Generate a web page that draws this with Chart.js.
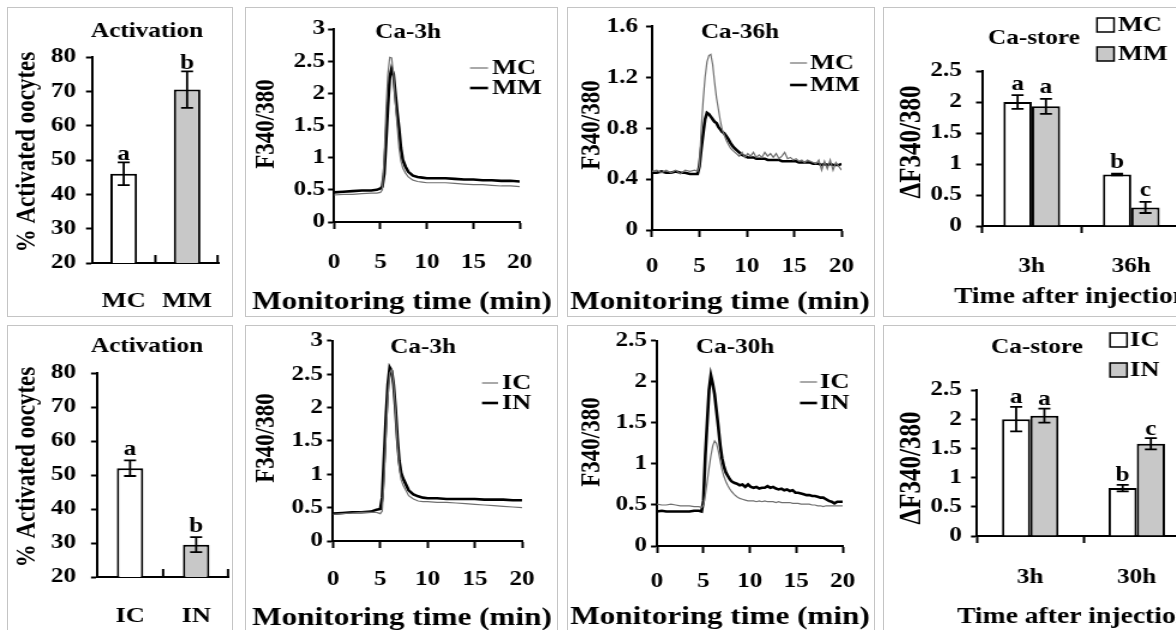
<!DOCTYPE html>
<html>
<head>
<meta charset="utf-8">
<script src="https://cdn.jsdelivr.net/npm/chart.js@4.4.1/dist/chart.umd.min.js"></script>
<style>
  html, body { margin: 0; padding: 0; background: #fff; width: 1176px; height: 630px; overflow: hidden; }
  .panel { position: absolute; overflow: hidden; }
  .panel canvas { position: absolute; left: 0; top: 0; transform-origin: 0 0; }
  .frame { position: absolute; left: 0; top: 0; right: 0; bottom: 0; border: 1px solid #c4c4c4; pointer-events: none; }
</style>
</head>
<body>
<script>
// ---- data ----

// Activation (% activated oocytes)
const actTicks = [20, 30, 40, 50, 60, 70, 80];
const actCats1 = ['MC', 'MM'];
const actVals1 = [46, 70.5];
const actErr1 = [3.3, 5.3];
const actLetters1 = ['a', 'b'];
const actCats2 = ['IC', 'IN'];
const actVals2 = [52, 29.5];
const actErr2 = [2.3, 2.2];
const actLetters2 = ['a', 'b'];

// Ca-store (delta F340/380)
const storeTicks = [0, 0.5, 1, 1.5, 2, 2.5];
const storeCats1 = ['3h', '36h'];
const storeMC = [2.0, 0.83];
const storeMCErr = [0.11, 0.015];
const storeMM = [1.93, 0.30];
const storeMMErr = [0.12, 0.09];
const storeLetters1 = [['a', 'b'], ['a', 'c']];
const storeCats2 = ['3h', '30h'];
const storeIC = [2.0, 0.82];
const storeICErr = [0.21, 0.055];
const storeIN = [2.06, 1.58];
const storeINErr = [0.12, 0.095];
const storeLetters2 = [['a', 'b'], ['a', 'c']];

// Ca traces, F340/380 vs monitoring time (min)
const timeTicks = [0, 5, 10, 15, 20];
const ticks3h = [0, 0.5, 1, 1.5, 2, 2.5, 3];
const ticks36h = [0, 0.4, 0.8, 1.2, 1.6];
const ticks30h = [0, 0.5, 1, 1.5, 2, 2.5];

const timeA = [0, 1, 2, 3, 4, 4.6, 5, 5.2, 5.4, 5.6, 5.8, 6.0, 6.2, 6.4, 6.6, 6.8, 7.0, 7.2, 7.4, 7.7,
  8.0, 8.5, 9, 9.5, 10, 11, 12, 13, 14, 15, 16, 17, 18, 19, 20];
const mc3h = [0.42, 0.43, 0.43, 0.44, 0.45, 0.45, 0.46, 0.50, 1.00, 1.75, 2.30, 2.56, 2.55, 2.30, 1.85, 1.50, 1.15, 0.95, 0.84, 0.76,
  0.70, 0.65, 0.63, 0.62, 0.61, 0.61, 0.61, 0.60, 0.59, 0.58, 0.58, 0.57, 0.56, 0.56, 0.55];
const mm3h = [0.46, 0.47, 0.48, 0.49, 0.49, 0.50, 0.52, 0.55, 0.75, 1.25, 1.80, 2.25, 2.38, 2.30, 2.00, 1.70, 1.45, 1.15, 0.97, 0.86,
  0.78, 0.72, 0.70, 0.69, 0.68, 0.68, 0.68, 0.67, 0.66, 0.66, 0.65, 0.65, 0.64, 0.64, 0.63];
const ic3h = [0.40, 0.41, 0.42, 0.43, 0.43, 0.43, 0.41, 0.45, 0.90, 1.55, 2.15, 2.52, 2.57, 2.35, 1.95, 1.45, 1.10, 0.92, 0.84, 0.76,
  0.68, 0.63, 0.60, 0.59, 0.59, 0.58, 0.58, 0.57, 0.56, 0.55, 0.54, 0.53, 0.52, 0.51, 0.50];
const in3h = [0.41, 0.42, 0.43, 0.43, 0.44, 0.47, 0.48, 0.65, 1.25, 1.85, 2.35, 2.60, 2.55, 2.35, 2.00, 1.55, 1.20, 1.02, 0.94, 0.85,
  0.76, 0.70, 0.67, 0.65, 0.64, 0.64, 0.63, 0.63, 0.63, 0.63, 0.62, 0.62, 0.62, 0.61, 0.61];

const timeB = [0, 0.5, 1, 1.5, 2, 2.5, 3, 3.5, 4, 4.5, 4.8,
  5.0, 5.2, 5.4, 5.6, 5.8, 6.0, 6.2, 6.4, 6.6, 6.8, 7.0, 7.2, 7.4, 7.6, 7.8, 8.0,
  8.3, 8.6, 8.9, 9.2, 9.5, 9.8, 10.1, 10.4, 10.7, 11, 11.3, 11.6, 11.9, 12.2, 12.5, 12.8, 13.1, 13.4, 13.7, 14,
  14.3, 14.6, 14.9, 15.2, 15.5, 15.8, 16.1, 16.4, 16.7, 17, 17.3, 17.6, 17.9, 18.2, 18.5, 18.8, 19.1, 19.4, 19.7, 20];
const mc36h = [0.46, 0.47, 0.45, 0.47, 0.45, 0.47, 0.44, 0.47, 0.46, 0.47, 0.46,
  0.50, 0.80, 1.02, 1.20, 1.32, 1.37, 1.38, 1.30, 1.16, 1.04, 0.95, 0.86, 0.79, 0.75, 0.71, 0.68,
  0.64, 0.62, 0.60, 0.58, 0.61, 0.57, 0.60, 0.58, 0.61, 0.57, 0.59, 0.57, 0.61, 0.58, 0.60, 0.57, 0.60, 0.56, 0.58, 0.61,
  0.56, 0.57, 0.55, 0.56, 0.54, 0.55, 0.53, 0.55, 0.54, 0.53, 0.52, 0.55, 0.47, 0.54, 0.48, 0.55, 0.47, 0.53, 0.50, 0.47];
const mm36h = [0.45, 0.45, 0.46, 0.45, 0.45, 0.46, 0.45, 0.45, 0.44, 0.44, 0.44,
  0.50, 0.64, 0.76, 0.87, 0.92, 0.91, 0.89, 0.87, 0.85, 0.84, 0.81, 0.79, 0.77, 0.76, 0.74, 0.72,
  0.68, 0.65, 0.63, 0.61, 0.59, 0.58, 0.57, 0.57, 0.57, 0.56, 0.56, 0.56, 0.56, 0.55, 0.55, 0.55, 0.55, 0.55, 0.54, 0.54,
  0.54, 0.54, 0.54, 0.54, 0.53, 0.53, 0.53, 0.53, 0.53, 0.52, 0.52, 0.52, 0.51, 0.52, 0.51, 0.52, 0.51, 0.51, 0.51, 0.52];
const ic30h = [0.51, 0.50, 0.50, 0.51, 0.50, 0.49, 0.49, 0.49, 0.48, 0.48, 0.47,
  0.50, 0.62, 0.78, 0.95, 1.10, 1.22, 1.28, 1.25, 1.16, 1.04, 0.93, 0.85, 0.79, 0.74, 0.70, 0.67,
  0.63, 0.60, 0.58, 0.57, 0.56, 0.55, 0.55, 0.55, 0.54, 0.55, 0.54, 0.55, 0.54, 0.54, 0.54, 0.53, 0.54, 0.53, 0.53, 0.53,
  0.53, 0.52, 0.52, 0.52, 0.51, 0.51, 0.51, 0.51, 0.50, 0.50, 0.49, 0.49, 0.48, 0.49, 0.49, 0.49, 0.49, 0.49, 0.49, 0.49];
const in30h = [0.42, 0.43, 0.42, 0.42, 0.42, 0.42, 0.42, 0.42, 0.43, 0.43, 0.42,
  0.55, 1.10, 1.50, 1.90, 2.08, 1.98, 1.85, 1.65, 1.45, 1.23, 1.07, 0.97, 0.90, 0.86, 0.82, 0.79,
  0.77, 0.76, 0.74, 0.75, 0.72, 0.75, 0.72, 0.71, 0.72, 0.70, 0.71, 0.71, 0.73, 0.71, 0.72, 0.70, 0.69, 0.70, 0.68, 0.69,
  0.67, 0.68, 0.65, 0.65, 0.64, 0.63, 0.62, 0.62, 0.61, 0.61, 0.60, 0.59, 0.59, 0.57, 0.55, 0.54, 0.52, 0.54, 0.54, 0.54];

// ---- drawing ----

const SX = 1.2; // the figure is stretched horizontally
const FONT = '"Liberation Serif", "Times New Roman", serif';
const GRAY = '#c8c8c8';
Chart.defaults.font.family = FONT;
Chart.defaults.font.weight = 'bold';
Chart.defaults.color = '#000';

const pts = (xs, ys) => xs.map((x, i) => ({ x: x, y: ys[i] }));
const thin = (label, xs, ys) => ({ label, data: pts(xs, ys), borderColor: '#707070', borderWidth: 1.2, pointRadius: 0, tension: 0 });
const thick = (label, xs, ys) => ({ label, data: pts(xs, ys), borderColor: '#000', borderWidth: 2.6, pointRadius: 0, tension: 0 });

// free text, legends, error bars and letters
const figText = {
  id: 'figText',
  afterDatasetsDraw(chart, args, o) {
    if (!o.box) return;
    const ctx = chart.ctx, b = o.box, sx = o.sx;
    const X = v => (v - b.x) / sx, Y = v => v - b.y;
    const font = s => `bold ${s}px ${FONT}`;
    const yS = chart.scales.y, xS = chart.scales.x;
    ctx.save();
    ctx.fillStyle = '#000';
    ctx.strokeStyle = '#000';

    (o.errors || []).forEach((errs, i) => {
      const meta = chart.getDatasetMeta(i);
      const vals = chart.data.datasets[i].data;
      meta.data.forEach((bar, j) => {
        const top = yS.getPixelForValue(vals[j] + errs[j]);
        const bot = yS.getPixelForValue(vals[j] - errs[j]);
        ctx.lineWidth = 1.8;
        ctx.beginPath();
        ctx.moveTo(bar.x, top); ctx.lineTo(bar.x, bot);
        ctx.moveTo(bar.x - 5, top); ctx.lineTo(bar.x + 5, top);
        ctx.moveTo(bar.x - 5, bot); ctx.lineTo(bar.x + 5, bot);
        ctx.stroke();
        if (o.letters) {
          ctx.font = font(21);
          ctx.textAlign = 'center';
          ctx.textBaseline = 'middle';
          ctx.fillText(o.letters[i][j], bar.x, top - o.letterGap);
        }
      });
    });

    if (o.innerTicks) {
      const n = chart.data.labels.length, bottom = chart.chartArea.bottom;
      ctx.lineWidth = 2;
      for (let i = 1; i <= n; i++) {
        const px = i < n ? (xS.getPixelForTick(i - 1) + xS.getPixelForTick(i)) / 2 : chart.chartArea.right - 1;
        ctx.beginPath(); ctx.moveTo(px, bottom); ctx.lineTo(px, bottom - 8); ctx.stroke();
      }
    }

    ctx.textBaseline = 'middle';
    (o.texts || []).forEach(t => {
      ctx.font = font(t.size);
      ctx.textAlign = t.align || 'center';
      ctx.fillText(t.t, X(t.x), Y(t.y));
    });
    (o.vtexts || []).forEach(t => {
      ctx.save();
      ctx.font = font(t.size);
      ctx.textAlign = 'center';
      ctx.translate(X(t.x), Y(t.y));
      ctx.rotate(-Math.PI / 2);
      ctx.fillText(t.t, 0, 0);
      ctx.restore();
    });

    const lg = o.legend;
    if (lg) {
      chart.data.datasets.forEach((ds, i) => {
        const y = Y(lg.ys[i]);
        if (lg.type === 'line') {
          ctx.strokeStyle = ds.borderColor;
          ctx.lineWidth = ds.borderWidth;
          ctx.beginPath(); ctx.moveTo(X(lg.x1), y); ctx.lineTo(X(lg.x2), y); ctx.stroke();
        } else {
          ctx.fillStyle = ds.backgroundColor;
          ctx.fillRect(X(lg.x1), y - 7, X(lg.x2) - X(lg.x1), 14);
          ctx.strokeStyle = '#000';
          ctx.lineWidth = 1.5;
          ctx.strokeRect(X(lg.x1), y - 7, X(lg.x2) - X(lg.x1), 14);
        }
        ctx.fillStyle = '#000';
        ctx.font = font(22);
        ctx.textAlign = 'left';
        ctx.fillText(ds.label, X(lg.tx), y);
      });
    }
    ctx.restore();
  }
};
Chart.register(figText);

function buildPanel(p) {
  const b = p.box, a = p.area;
  const W = Math.round(b.w / SX), H = b.h;
  const sx = b.w / W;
  const X = v => (v - b.x) / sx, Y = v => v - b.y;

  const wrap = document.createElement('div');
  wrap.className = 'panel';
  wrap.style.cssText = `left:${b.x}px;top:${b.y}px;width:${b.w}px;height:${b.h}px`;
  const canvas = document.createElement('canvas');
  canvas.width = W;
  canvas.height = H;
  canvas.style.width = W + 'px';
  canvas.style.height = H + 'px';
  canvas.style.transform = `scaleX(${sx})`;
  wrap.appendChild(canvas);
  const frame = document.createElement('div');
  frame.className = 'frame';
  wrap.appendChild(frame);
  document.body.appendChild(wrap);

  const areaL = X(a.l), areaR = X(a.r), areaT = Y(a.t), areaB = Y(a.b);
  const yTl = 5;
  const xTl = p.innerTicks ? 0 : 7;
  const xPad = Y(p.xLabelY) - areaB - xTl - p.xFont * 1.2 / 2;
  const yPad = areaL - X(p.yLabelRight) - yTl;

  const xScale = p.type === 'line'
    ? {
        type: 'linear', min: 0, max: 20,
        afterBuildTicks: s => { s.ticks = timeTicks.map(v => ({ value: v })); }
      }
    : { type: 'category' };
  const xTicks = { font: { size: p.xFont }, padding: xPad, maxRotation: 0, autoSkip: false, color: '#000' };
  if (p.type === 'line') xTicks.callback = v => String(v);
  Object.assign(xScale, {
    afterFit: s => { s.height = H - areaB; },
    grid: p.innerTicks
      ? { display: false }
      : { drawOnChartArea: false, drawTicks: true, tickLength: xTl, tickWidth: 2, tickColor: '#000' },
    border: { color: '#000', width: 2 },
    ticks: xTicks
  });

  new Chart(canvas, {
    type: p.type,
    data: p.data,
    options: {
      responsive: false,
      animation: false,
      events: [],
      layout: { padding: { left: 0, top: areaT, right: W - areaR, bottom: 0 } },
      plugins: {
        legend: { display: false },
        tooltip: { enabled: false },
        figText: Object.assign({ box: b, sx: sx, letterGap: 11 }, p.text)
      },
      scales: {
        x: xScale,
        y: {
          type: 'linear',
          min: p.yTicks[0],
          max: p.yTicks[p.yTicks.length - 1],
          afterBuildTicks: s => { s.ticks = p.yTicks.map(v => ({ value: v })); },
          afterFit: s => { s.width = areaL; },
          grid: { drawOnChartArea: false, drawTicks: true, tickLength: yTl, tickWidth: 2, tickColor: '#000' },
          border: { color: '#000', width: 2 },
          ticks: { font: { size: 21 }, padding: yPad, color: '#000', callback: v => String(v) }
        }
      }
    }
  });
}

const actBar = (vals, pct) => ({
  label: '', data: vals, backgroundColor: ['#fff', GRAY], borderColor: '#000', borderWidth: 2,
  barPercentage: pct, categoryPercentage: 1
});
const storeBar = (label, vals, color, pct) => ({
  label, data: vals, backgroundColor: color, borderColor: '#000', borderWidth: 2,
  barPercentage: 1, categoryPercentage: pct
});

const panels = [
  { // activation MC / MM
    box: { x: 7, y: 7, w: 226, h: 310 }, area: { l: 92, r: 230, t: 57, b: 263 },
    type: 'bar', data: { labels: actCats1, datasets: [actBar(actVals1, 0.42)] },
    yTicks: actTicks, yLabelRight: 76, xLabelY: 293, xFont: 22, innerTicks: true,
    text: {
      errors: [actErr1], letters: [actLetters1], innerTicks: true, letterGap: 8,
      texts: [{ t: 'Activation', x: 147, y: 32, size: 21 }],
      vtexts: [{ t: '% Activated oocytes', x: 28, y: 152, size: 23 }]
    }
  },
  { // Ca-3h MC / MM
    box: { x: 245, y: 7, w: 313, h: 310 }, area: { l: 334, r: 538, t: 29, b: 222 },
    type: 'line', data: { datasets: [thin('MC', timeA, mc3h), thick('MM', timeA, mm3h)] },
    yTicks: ticks3h, yLabelRight: 325, xLabelY: 263, xFont: 21,
    text: {
      texts: [{ t: 'Ca-3h', x: 408, y: 33, size: 21 }, { t: 'Monitoring time (min)', x: 402, y: 302, size: 26 }],
      vtexts: [{ t: 'F340/380', x: 267, y: 124, size: 23 }],
      legend: { type: 'line', x1: 470, x2: 488, tx: 492, ys: [68, 88] }
    }
  },
  { // Ca-36h MC / MM
    box: { x: 567, y: 7, w: 308, h: 310 }, area: { l: 652, r: 857, t: 25, b: 230 },
    type: 'line', data: { datasets: [thin('MC', timeB, mc36h), thick('MM', timeB, mm36h)] },
    yTicks: ticks36h, yLabelRight: 638, xLabelY: 267, xFont: 21,
    text: {
      texts: [{ t: 'Ca-36h', x: 740, y: 33, size: 21 }, { t: 'Monitoring time (min)', x: 720, y: 302, size: 26 }],
      vtexts: [{ t: 'F340/380', x: 592, y: 125, size: 23 }],
      legend: { type: 'line', x1: 790, x2: 807, tx: 810, ys: [63, 85] }
    }
  },
  { // Ca-store MC / MM
    box: { x: 883, y: 7, w: 330, h: 310 }, area: { l: 982, r: 1181, t: 71, b: 226 },
    type: 'bar',
    data: { labels: storeCats1, datasets: [storeBar('MC', storeMC, '#fff', 0.57), storeBar('MM', storeMM, GRAY, 0.57)] },
    yTicks: storeTicks, yLabelRight: 962, xLabelY: 267, xFont: 21,
    text: {
      errors: [storeMCErr, storeMMErr], letters: storeLetters1, letterGap: 11,
      texts: [{ t: 'Ca-store', x: 1034, y: 39, size: 21 },
              { t: 'Time after injection', x: 954, y: 297, size: 23, align: 'left' }],
      vtexts: [{ t: '\u0394F340/380', x: 912, y: 142, size: 25 }],
      legend: { type: 'box', x1: 1097, x2: 1114, tx: 1118, ys: [25, 54] }
    }
  },
  { // activation IC / IN
    box: { x: 7, y: 325, w: 226, h: 320 }, area: { l: 97, r: 230, t: 373, b: 577 },
    type: 'bar', data: { labels: actCats2, datasets: [actBar(actVals2, 0.40)] },
    yTicks: actTicks, yLabelRight: 76, xLabelY: 608, xFont: 22, innerTicks: true,
    text: {
      errors: [actErr2], letters: [actLetters2], innerTicks: true, letterGap: 11,
      texts: [{ t: 'Activation', x: 147, y: 347, size: 21 }],
      vtexts: [{ t: '% Activated oocytes', x: 28, y: 467, size: 23 }]
    }
  },
  { // Ca-3h IC / IN
    box: { x: 245, y: 325, w: 313, h: 320 }, area: { l: 333, r: 543, t: 340, b: 541 },
    type: 'line', data: { datasets: [thin('IC', timeA, ic3h), thick('IN', timeA, in3h)] },
    yTicks: ticks3h, yLabelRight: 323, xLabelY: 580, xFont: 21,
    text: {
      texts: [{ t: 'Ca-3h', x: 423, y: 348, size: 21 }, { t: 'Monitoring time (min)', x: 402, y: 618, size: 26 }],
      vtexts: [{ t: 'F340/380', x: 267, y: 438, size: 23 }],
      legend: { type: 'line', x1: 482, x2: 498, tx: 502, ys: [383, 403] }
    }
  },
  { // Ca-30h IC / IN
    box: { x: 567, y: 325, w: 308, h: 320 }, area: { l: 657, r: 862, t: 340, b: 546 },
    type: 'line', data: { datasets: [thin('IC', timeB, ic30h), thick('IN', timeB, in30h)] },
    yTicks: ticks30h, yLabelRight: 647, xLabelY: 582, xFont: 21,
    text: {
      texts: [{ t: 'Ca-30h', x: 735, y: 348, size: 21 }, { t: 'Monitoring time (min)', x: 720, y: 617, size: 26 }],
      vtexts: [{ t: 'F340/380', x: 592, y: 442, size: 23 }],
      legend: { type: 'line', x1: 800, x2: 817, tx: 820, ys: [382, 403] }
    }
  },
  { // Ca-store IC / IN
    box: { x: 883, y: 325, w: 330, h: 320 }, area: { l: 977, r: 1190, t: 390, b: 536 },
    type: 'bar',
    data: { labels: storeCats2, datasets: [storeBar('IC', storeIC, '#fff', 0.53), storeBar('IN', storeIN, GRAY, 0.53)] },
    yTicks: storeTicks, yLabelRight: 962, xLabelY: 578, xFont: 21,
    text: {
      errors: [storeICErr, storeINErr], letters: storeLetters2, letterGap: 9,
      texts: [{ t: 'Ca-store', x: 1037, y: 348, size: 21 },
              { t: 'Time after injection', x: 957, y: 617, size: 23, align: 'left' }],
      vtexts: [{ t: '\u0394F340/380', x: 912, y: 468, size: 25 }],
      legend: { type: 'box', x1: 1110, x2: 1127, tx: 1130, ys: [340, 370] }
    }
  }
];

panels.forEach(buildPanel);
</script>
</body>
</html>
